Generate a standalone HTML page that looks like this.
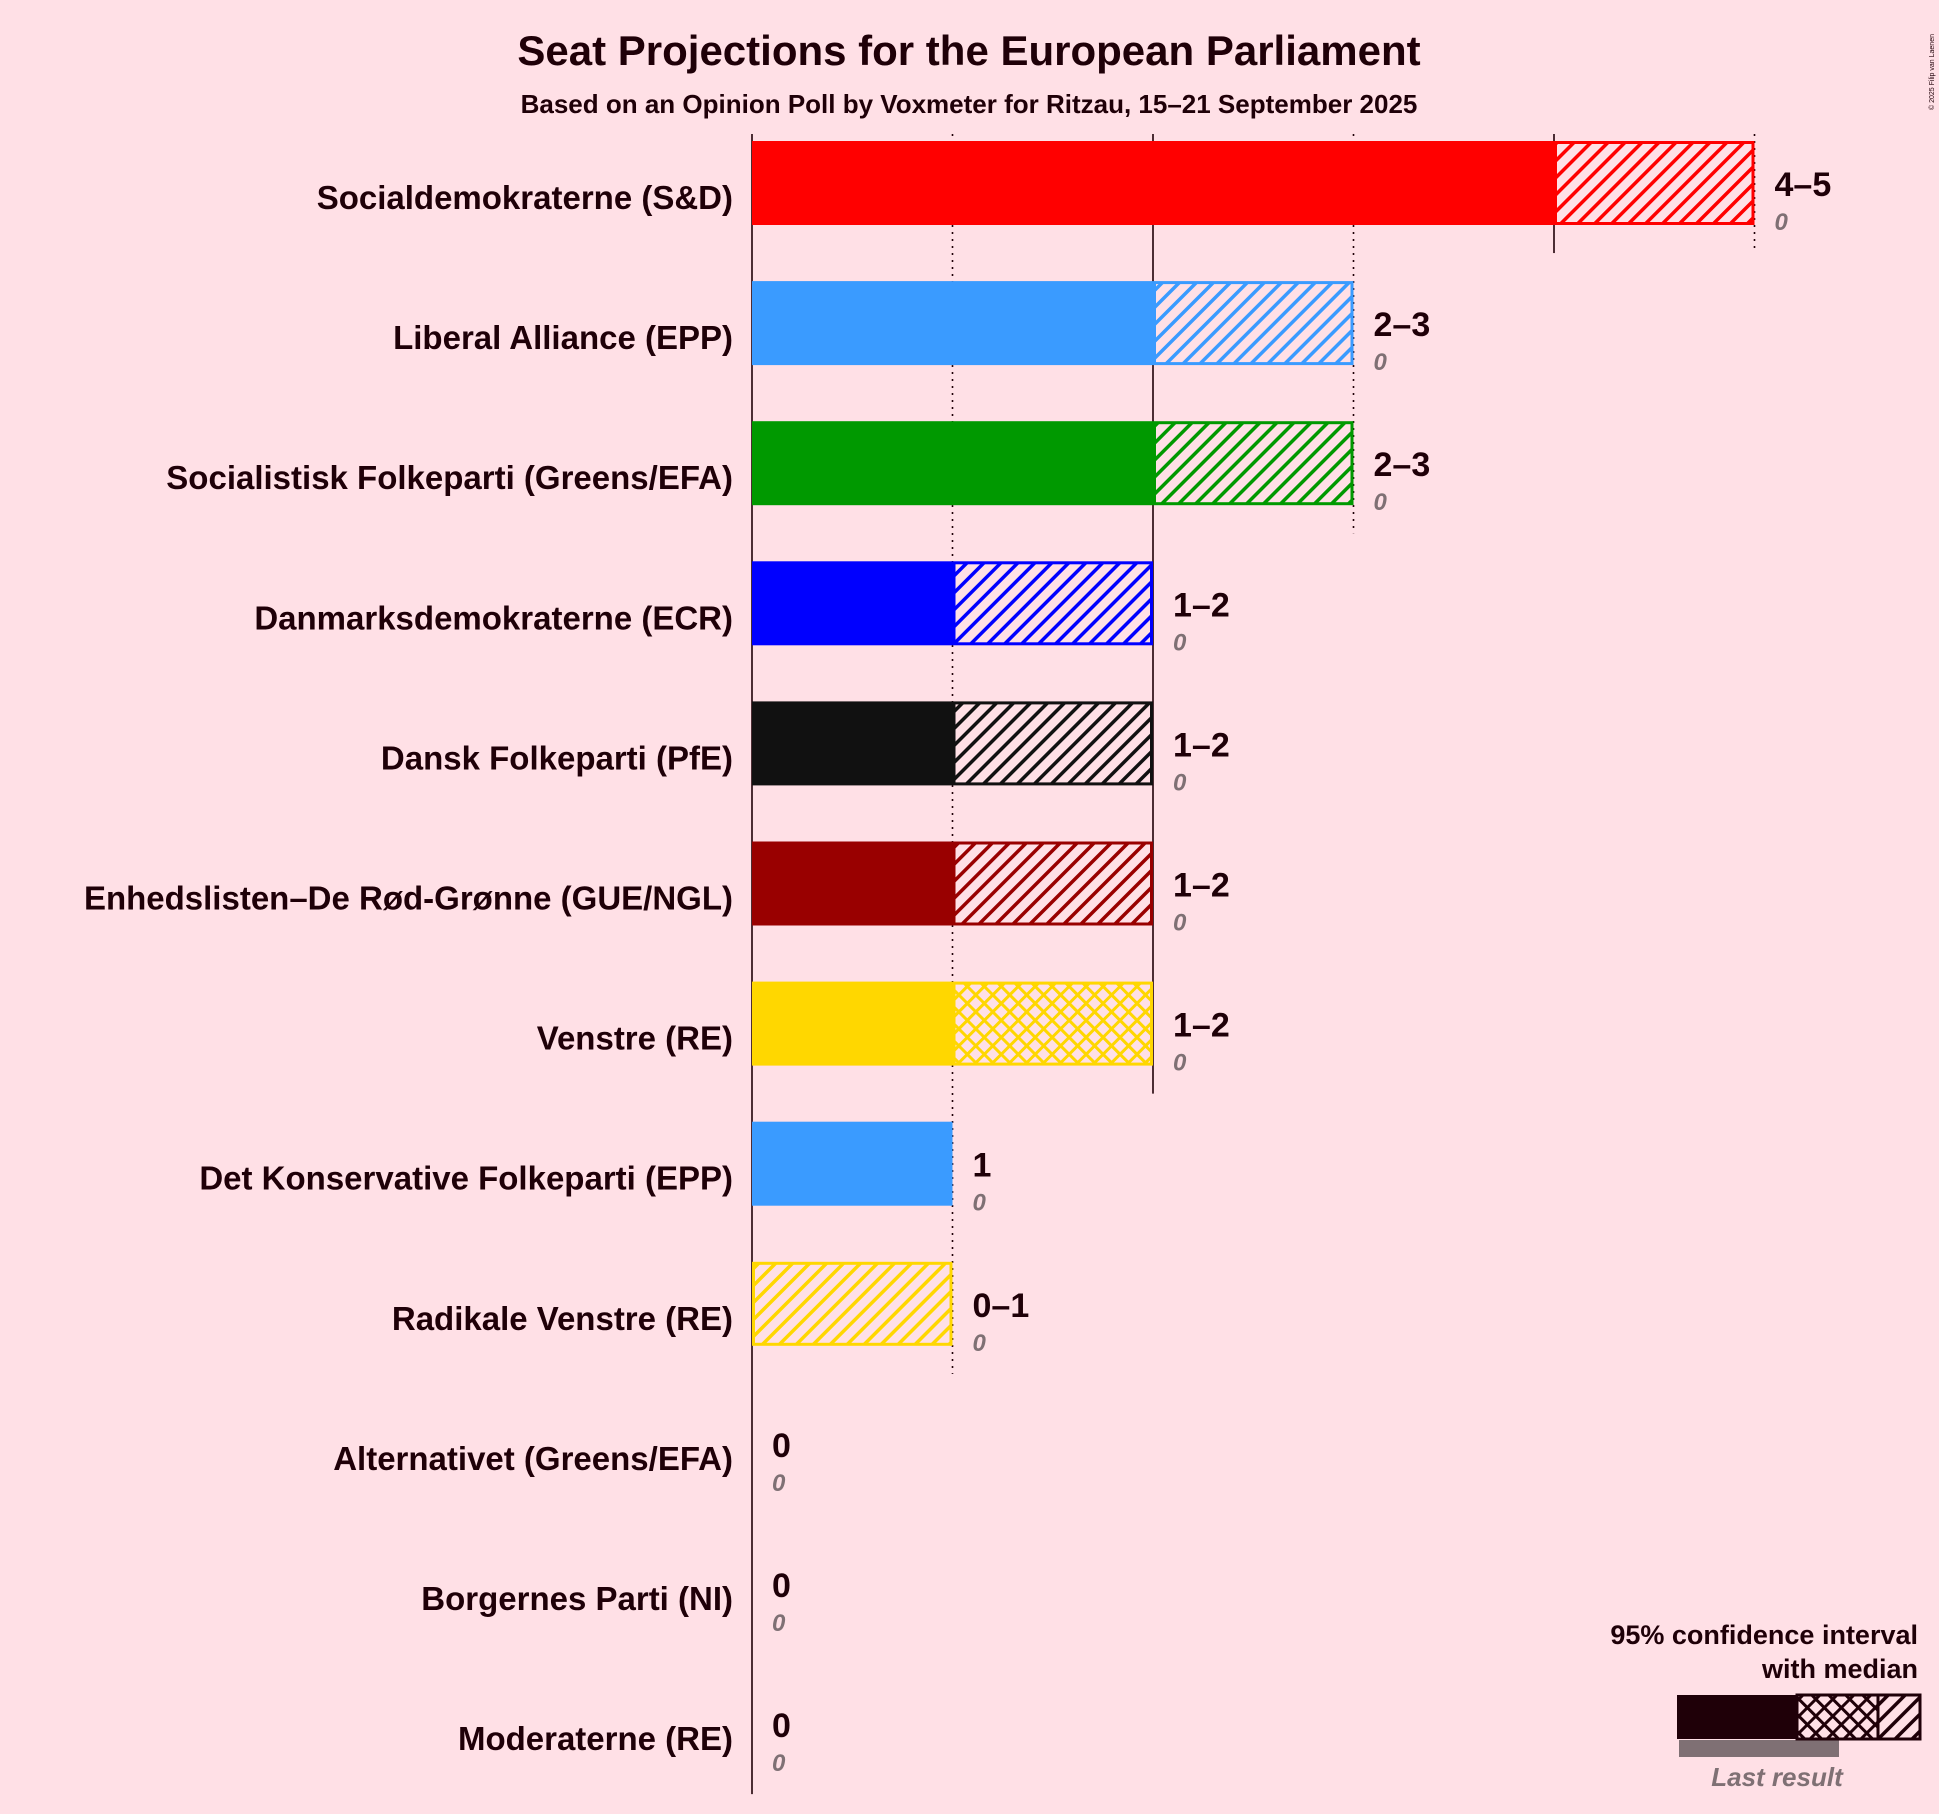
<!DOCTYPE html>
<html><head><meta charset="utf-8">
<style>
html,body{margin:0;padding:0;background:#FFE0E6;}
svg{display:block;font-family:"Liberation Sans",sans-serif;}
</style></head>
<body>
<svg id="chart" width="1939" height="1814" viewBox="0 0 1939 1814" xmlns="http://www.w3.org/2000/svg">
<rect width="1939" height="1814" fill="#FFE0E6"/>
<defs id="defs"></defs>
<text x="969" y="65" text-anchor="middle" font-size="42" font-weight="bold" fill="#1F0008">Seat Projections for the European Parliament</text>
<text x="969" y="113" text-anchor="middle" font-size="26" font-weight="bold" fill="#1F0008">Based on an Opinion Poll by Voxmeter for Ritzau, 15–21 September 2025</text>
<text transform="translate(1934,110) rotate(-90)" font-size="7" fill="#1F0008">© 2025 Filip van Laenen</text>
<g id="grid"></g>
<g id="bars"></g>
<g id="legend">
<text x="1918" y="1644" text-anchor="end" font-size="27" font-weight="bold" fill="#1F0008">95% confidence interval</text>
<text x="1918" y="1678" text-anchor="end" font-size="27" font-weight="bold" fill="#1F0008">with median</text>
<rect x="1679" y="1740" width="160" height="17" fill="#7F7074"/>
<rect x="1677" y="1695" width="120" height="44" fill="#1F0008"/>
<rect x="1797" y="1695" width="81" height="44" fill="url(#cross-1F0008)" stroke="#1F0008" stroke-width="3"/>
<rect x="1878" y="1695" width="42" height="44" fill="url(#hatch-1F0008)" stroke="#1F0008" stroke-width="3"/>
<text x="1777" y="1786" text-anchor="middle" font-size="26" font-style="italic" font-weight="bold" fill="#7F7074">Last result</text>
</g>
</svg>
<script>
const parties = ["Socialdemokraterne (S&D)","Liberal Alliance (EPP)","Socialistisk Folkeparti (Greens/EFA)","Danmarksdemokraterne (ECR)","Dansk Folkeparti (PfE)","Enhedslisten–De Rød-Grønne (GUE/NGL)","Venstre (RE)","Det Konservative Folkeparti (EPP)","Radikale Venstre (RE)","Alternativet (Greens/EFA)","Borgernes Parti (NI)","Moderaterne (RE)"];
const lows = [4,2,2,1,1,1,1,1,0,0,0,0];
const medians = [4,2,2,1,1,1,2,1,0,0,0,0];
const highs = [5,3,3,2,2,2,2,1,1,0,0,0];
const lastResults = [0,0,0,0,0,0,0,0,0,0,0,0];
const colors = ["#FF0000","#3A9BFF","#009900","#0000FF","#111111","#990000","#FFD700","#3A9BFF","#FFD700","#22BB66","#00CCCC","#9C27B0"];
const gridTicks = [0,1,2,3,4,5];

const NS="http://www.w3.org/2000/svg";
const X0=752, UNIT=200.5, ROW0=183, ROWH=140.1, BARH=84;
const xs=v=>X0+v*UNIT;
const ys=i=>ROW0+i*ROWH;
function el(tag,attrs,parent){const e=document.createElementNS(NS,tag);for(const k in attrs)e.setAttribute(k,attrs[k]);parent.appendChild(e);return e;}
const defs=document.getElementById('defs');
const made={};
function pats(c){
  const id=c.replace('#','');
  if(made[id])return id;made[id]=1;
  const p=el('pattern',{id:'hatch-'+id,patternUnits:'userSpaceOnUse',width:12,height:12,patternTransform:'rotate(45)'},defs);
  el('rect',{width:12,height:12,fill:'#FFE0E6'},p);
  el('rect',{x:0,y:0,width:3.5,height:12,fill:c},p);
  const q=el('pattern',{id:'cross-'+id,patternUnits:'userSpaceOnUse',width:12,height:12,patternTransform:'rotate(45)'},defs);
  el('rect',{width:12,height:12,fill:'#FFE0E6'},q);
  el('rect',{x:0,y:0,width:3,height:12,fill:c},q);
  el('rect',{x:0,y:0,width:12,height:3,fill:c},q);
  return id;
}
pats('#1F0008');
const grid=document.getElementById('grid');
gridTicks.forEach(t=>{
  let last=-1;highs.forEach((h,i)=>{if(h>=t)last=i;});
  if(last<0)return;
  const y2=t===0?ys(parties.length-1)+ROWH/2:ys(last)+ROWH/2;
  const l=el('line',{x1:xs(t),x2:xs(t),y1:134,y2:y2,stroke:'#1F0008','stroke-width':1.6},grid);
  if(t%2===1)l.setAttribute('stroke-dasharray','2,5');
  
  
});
const bars=document.getElementById('bars');
parties.forEach((p,i)=>{
  const g=el('g',{},bars);
  
  
  const c=colors[i], id=pats(c), yc=ys(i), top=yc-BARH/2;
  const lab=el('text',{x:733,y:yc+26,'text-anchor':'end','font-size':33,'font-weight':'bold',fill:'#1F0008'},g);
  lab.textContent=p;
  
  
  if(lastResults[i]>0){
    const r=el('rect',{x:xs(0),y:top+BARH,width:xs(lastResults[i])-xs(0),height:17,fill:'#7F7074'},g);
    
    
  }
  if(lows[i]>0){
    const r=el('rect',{x:xs(0),y:top,width:xs(lows[i])-xs(0),height:BARH,fill:c},g);
    
    
  }
  if(medians[i]>lows[i]){
    const r=el('rect',{x:xs(lows[i])+1.5,y:top+1.5,width:xs(medians[i])-xs(lows[i])-3,height:BARH-3,fill:'url(#cross-'+id+')',stroke:c,'stroke-width':3},g);
    
    
  }
  if(highs[i]>medians[i]){
    const r=el('rect',{x:xs(medians[i])+1.5,y:top+1.5,width:xs(highs[i])-xs(medians[i])-3,height:BARH-3,fill:'url(#hatch-'+id+')',stroke:c,'stroke-width':3},g);
    
    
  }
  const lx=xs(highs[i])+20;
  const rl=el('text',{x:lx,y:yc+13,'font-size':34,'font-weight':'bold',fill:'#1F0008'},g);
  rl.textContent=lows[i]===highs[i]?String(lows[i]):lows[i]+'–'+highs[i];
  
  
  const ll=el('text',{x:lx,y:yc+47,'font-size':24,'font-style':'italic','font-weight':'bold',fill:'#7F7074'},g);
  ll.textContent=String(lastResults[i]);
  
  
});
</script>
</body></html>
